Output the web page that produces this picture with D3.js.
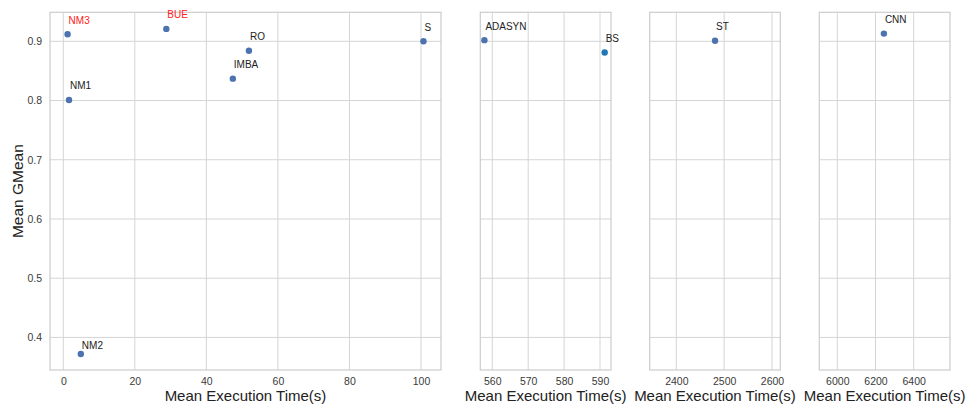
<!DOCTYPE html>
<html><head><meta charset="utf-8">
<script src="https://cdn.jsdelivr.net/npm/d3@7"></script>
<style>body{margin:0;background:#fff;}svg{display:block;font-family:"Liberation Sans",Arial,sans-serif;}</style>
</head><body>
<svg id="c" width="967" height="405"></svg>
<script>
// Data
const methods = ["NM3","BUE","RO","IMBA","S","NM1","NM2","ADASYN","BS","ST","CNN"];
const execTimes = [1.2,28.8,51.9,47.4,100.7,1.6,4.9,557.8,591.3,2481,6244];
const gmeans = [0.912,0.921,0.884,0.837,0.900,0.801,0.372,0.902,0.881,0.901,0.913];
const panelOf = [0,0,0,0,0,0,0,1,1,2,3];
const highlighted = ["NM3","BUE"];
const yTicks = [0.4,0.5,0.6,0.7,0.8,0.9];
const xTicks = [[0,20,40,60,80,100],[560,570,580,590],[2400,2500,2600],[6000,6200,6400]];
const xDomains = [[-3.72,105.6],[556.66,593.06],[2344.4,2617.4],[5905.8,6590]];
const yDomain = [0.345,0.949];

(function(){
const panelsPx = [[50,441],[480.3,611],[649.7,780.3],[819.3,950]];
const plotTop = 12.3, plotBottom = 370;

const svg = d3.select("#c");
const y = d3.scaleLinear().domain(yDomain).range([plotBottom, plotTop]);
const grid = "#d5d5d5";

panelsPx.forEach((p, i) => {
  const x = d3.scaleLinear().domain(xDomains[i]).range(p);
  const g = svg.append("g");
  g.selectAll(".gx").data(xTicks[i]).join("line").attr("class","gx")
    .attr("x1", d=>x(d)).attr("x2", d=>x(d)).attr("y1", plotTop).attr("y2", plotBottom)
    .attr("stroke", grid).attr("stroke-width",1);
  g.selectAll(".gy").data(yTicks).join("line").attr("class","gy")
    .attr("x1", p[0]).attr("x2", p[1]).attr("y1", d=>y(d)).attr("y2", d=>y(d))
    .attr("stroke", grid).attr("stroke-width",1);
  g.append("rect").attr("x",p[0]).attr("y",plotTop).attr("width",p[1]-p[0]).attr("height",plotBottom-plotTop)
    .attr("fill","none").attr("stroke","#cccccc").attr("stroke-width",1.2);
  const xa = d3.axisBottom(x).tickValues(xTicks[i]).tickSize(0).tickPadding(8).tickFormat(d3.format("d"));
  const ax = g.append("g").attr("transform",`translate(0,${plotBottom})`).call(xa);
  ax.select(".domain").remove();
  ax.selectAll("text").attr("font-size",10.5).attr("fill","#3a3a3a").attr("font-family","Liberation Sans, Arial, sans-serif");
  if (i===0) {
    const ya = d3.axisLeft(y).tickValues(yTicks).tickSize(0).tickPadding(8).tickFormat(d3.format(".1f"));
    const ay = g.append("g").attr("transform",`translate(${p[0]},0)`).call(ya);
    ay.select(".domain").remove();
    ay.selectAll("text").attr("font-size",10.5).attr("fill","#3a3a3a").attr("font-family","Liberation Sans, Arial, sans-serif");
  }
  g.append("text").attr("x",(p[0]+p[1])/2).attr("y",401).attr("text-anchor","middle")
    .attr("font-size",15).attr("fill","#222").text("Mean Execution Time(s)");
  const idx = methods.map((m,k)=>k).filter(k=>panelOf[k]===i);
  g.selectAll("circle").data(idx).join("circle")
    .attr("cx", k=>x(execTimes[k])).attr("cy", k=>y(gmeans[k])).attr("r",3.2)
    .attr("fill", k=>methods[k]==="BS" ? "#1f77b4" : "#4c72b0");
  g.selectAll(".lbl").data(idx).join("text").attr("class","lbl")
    .attr("x", k=>x(execTimes[k])+1).attr("y", k=>y(gmeans[k]) - (methods[k]==="NM2"?5:10.5))
    .attr("font-size",10).attr("fill", k=>highlighted.includes(methods[k]) ? "#ff2020" : "#222")
    .text(k=>methods[k]);
});

svg.append("text").attr("transform",`translate(23,${(plotTop+plotBottom)/2}) rotate(-90)`)
  .attr("text-anchor","middle").attr("font-size",15.5).attr("fill","#222").text("Mean GMean");
})();
</script>
</body></html>
